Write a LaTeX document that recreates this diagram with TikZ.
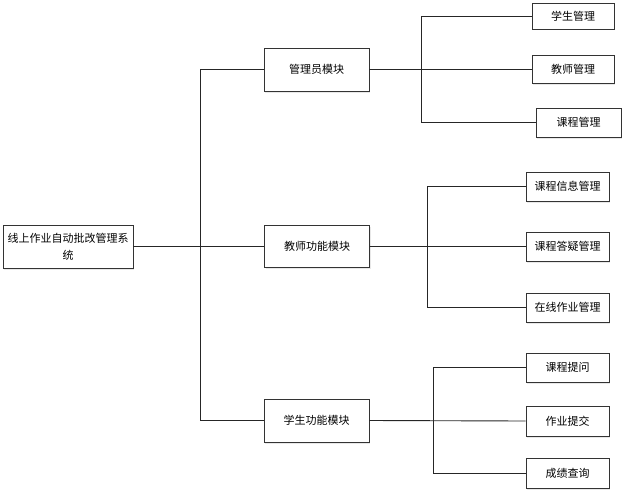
\documentclass[tikz,border=0pt]{standalone}
\usepackage{fontspec}
\setmainfont{Noto Sans CJK SC}
\usetikzlibrary{shadows}
\begin{document}
\begin{tikzpicture}[x=1pt,y=-1pt,
  box/.style={draw=black!80, line width=0.9pt, fill=white, inner sep=0pt, align=center,
    font=\fontsize{11}{14}\selectfont,
    drop shadow={shadow xshift=1.2pt, shadow yshift=-1.5pt, opacity=0.18}},
  conn/.style={draw=black!85, line width=0.9pt}]
\useasboundingbox (0,0) rectangle (623,495);
\node[box, minimum width=130pt, minimum height=43pt, font=\fontsize{11}{17}\selectfont] (root) at (68,246.5) {线上作业自动批改管理系\\统};
\node[box, minimum width=105pt, minimum height=43pt] (admin) at (316.5,69.5) {管理员模块};
\node[box, minimum width=105pt, minimum height=42pt] (teach) at (317,246.5) {教师功能模块};
\node[box, minimum width=105pt, minimum height=43pt] (stud) at (316.5,420.5) {学生功能模块};
\node[box, minimum width=82pt, minimum height=26pt] (c11) at (573,16) {学生管理};
\node[box, minimum width=82pt, minimum height=28pt] (c12) at (573,69.5) {教师管理};
\node[box, minimum width=85pt, minimum height=29pt] (c13) at (578.5,122.5) {课程管理};
\node[box, minimum width=83pt, minimum height=29pt] (c21) at (567.5,186.5) {课程信息管理};
\node[box, minimum width=83pt, minimum height=29pt] (c22) at (567.5,246.5) {课程答疑管理};
\node[box, minimum width=83pt, minimum height=29pt] (c23) at (567.5,307.5) {在线作业管理};
\node[box, minimum width=83pt, minimum height=29pt] (c31) at (567.5,367.5) {课程提问};
\node[box, minimum width=83pt, minimum height=30pt] (c32) at (567.5,421) {作业提交};
\node[box, minimum width=83pt, minimum height=30pt] (c33) at (567.5,473) {成绩查询};
\coordinate (t0) at (200,0);
\coordinate (t1) at (421,0);
\coordinate (t2) at (427,0);
\coordinate (t3) at (433,0);
% main trunk
\draw[conn] (root.east) -- (teach.west);
\draw[conn] (admin.west) -- (admin.west -| t0) -- (stud.west -| t0) -- (stud.west);
% admin branch
\draw[conn] (admin.east) -- (c12.west);
\draw[conn] (c11.west) -- (c11.west -| t1) -- (c13.west -| t1) -- (c13.west);
% teacher branch
\draw[conn] (teach.east) -- (c22.west);
\draw[conn] (c21.west) -- (c21.west -| t2) -- (c23.west -| t2) -- (c23.west);
% student branch
\draw[conn] (stud.east) -- (c32.west);
\draw[conn] (c31.west) -- (c31.west -| t3) -- (c33.west -| t3) -- (c33.west);
\end{tikzpicture}
\end{document}
